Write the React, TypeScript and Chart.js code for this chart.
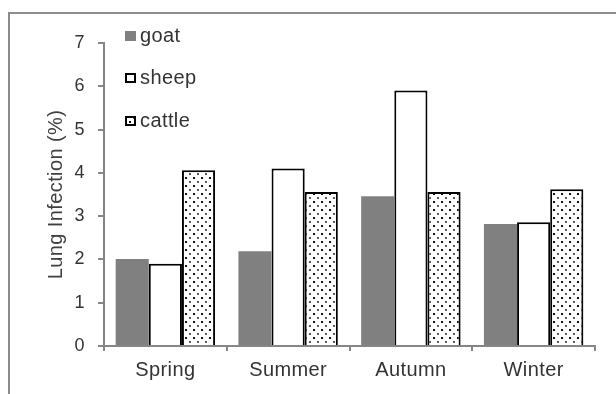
import React, { useEffect, useRef } from "react";
import { Chart, registerables } from "chart.js";

Chart.register(...registerables);

const categories = ["Spring", "Summer", "Autumn", "Winter"];
const goat = [2.01, 2.19, 3.46, 2.82];
const sheep = [1.9, 4.1, 5.9, 2.86];
const cattle = [4.06, 3.56, 3.56, 3.62];
const yTicks = [0, 1, 2, 3, 4, 5, 6, 7];
const seriesNames = ["goat", "sheep", "cattle"];

const FONT = "'Liberation Sans', Arial, sans-serif";

function makeDotPattern(): CanvasPattern | string {
  const c = document.createElement("canvas");
  c.width = 8;
  c.height = 8;
  const g = c.getContext("2d");
  if (!g) return "#fff";
  g.fillStyle = "#ffffff";
  g.fillRect(0, 0, 8, 8);
  g.fillStyle = "#111111";
  g.fillRect(1, 1, 2, 2);
  g.fillStyle = "#5a5a5a";
  g.fillRect(5, 5, 2, 2);
  const p = g.createPattern(c, "repeat");
  return p || "#fff";
}

export default function App() {
  const ref = useRef<HTMLCanvasElement | null>(null);

  useEffect(() => {
    if (!ref.current) return;
    const pattern = makeDotPattern();
    const fills: any[] = ["#808080", "#ffffff", pattern];

    const framePlugin = {
      id: "frame",
      beforeDraw(chart: any) {
        const ctx = chart.ctx;
        ctx.save();
        ctx.fillStyle = "#ffffff";
        ctx.fillRect(0, 0, chart.width, chart.height);
        ctx.strokeStyle = "#8c8c8c";
        ctx.lineWidth = 2;
        ctx.strokeRect(9, 13, 1000, 1000);
        ctx.restore();
        (ctx as any).letterSpacing = "0.4px";
      },
      afterDraw(chart: any) {
        const ctx = chart.ctx;
        ctx.save();
        const ys = [36, 78, 121];
        ctx.font = `20px ${FONT}`;
        ctx.textBaseline = "middle";
        ctx.textAlign = "left";
        seriesNames.forEach((name, i) => {
          const y = ys[i];
          if (i === 0) {
            ctx.fillStyle = "#808080";
            ctx.fillRect(125, y - 5, 11, 10);
          } else {
            ctx.fillStyle = fills[i];
            ctx.fillRect(126, y - 4, 9, 8);
            ctx.strokeStyle = "#000";
            ctx.lineWidth = 2;
            ctx.strokeRect(126, y - 4, 9, 8);
          }
          ctx.fillStyle = "#333333";
          ctx.fillText(name, 140, y);
        });
        ctx.restore();
      },
    };

    const chart = new Chart(ref.current, {
      type: "bar",
      data: {
        labels: categories,
        datasets: [
          { label: seriesNames[0], data: goat, backgroundColor: fills[0], borderWidth: 0 },
          { label: seriesNames[1], data: sheep, backgroundColor: fills[1], borderColor: "#000", borderWidth: 2 },
          { label: seriesNames[2], data: cattle, backgroundColor: fills[2], borderColor: "#000", borderWidth: 2 },
        ],
      },
      options: {
        responsive: false,
        animation: false,
        devicePixelRatio: 1,
        layout: { padding: { left: 44, right: 21, top: 43, bottom: 0 } },
        datasets: { bar: { categoryPercentage: 0.81, barPercentage: 1.0 } },
        plugins: { legend: { display: false }, tooltip: { enabled: false } },
        scales: {
          x: {
            offset: true,
            grid: {
              offset: true,
              drawOnChartArea: false,
              drawTicks: true,
              tickLength: 5,
              color: "#868686",
              lineWidth: 2,
            },
            border: { color: "#868686", width: 2 },
            ticks: { color: "#333333", font: { family: FONT, size: 20 }, padding: 7 },
            afterFit(s: any) {
              s.height = 48;
            },
          },
          y: {
            min: 0,
            max: 7,
            afterBuildTicks(s: any) {
              s.ticks = yTicks.map((v) => ({ value: v }));
            },
            grid: {
              drawOnChartArea: false,
              drawTicks: true,
              tickLength: 6,
              color: "#868686",
              lineWidth: 2,
            },
            border: { color: "#868686", width: 2 },
            ticks: { color: "#333333", font: { family: FONT, size: 18 }, padding: 13 },
            title: {
              display: true,
              text: "Lung Infection (%)",
              color: "#404040",
              font: { family: FONT, size: 20 },
              padding: { top: 0, bottom: 0 },
            },
            afterFit(s: any) {
              s.width = 60;
            },
          },
        },
      },
      plugins: [framePlugin],
    });
    return () => chart.destroy();
  }, []);

  return (
    <div style={{ position: "absolute", left: 0, top: 0, width: 616, height: 394 }}>
      <canvas ref={ref} width={616} height={394} style={{ width: 616, height: 394 }} />
    </div>
  );
}
